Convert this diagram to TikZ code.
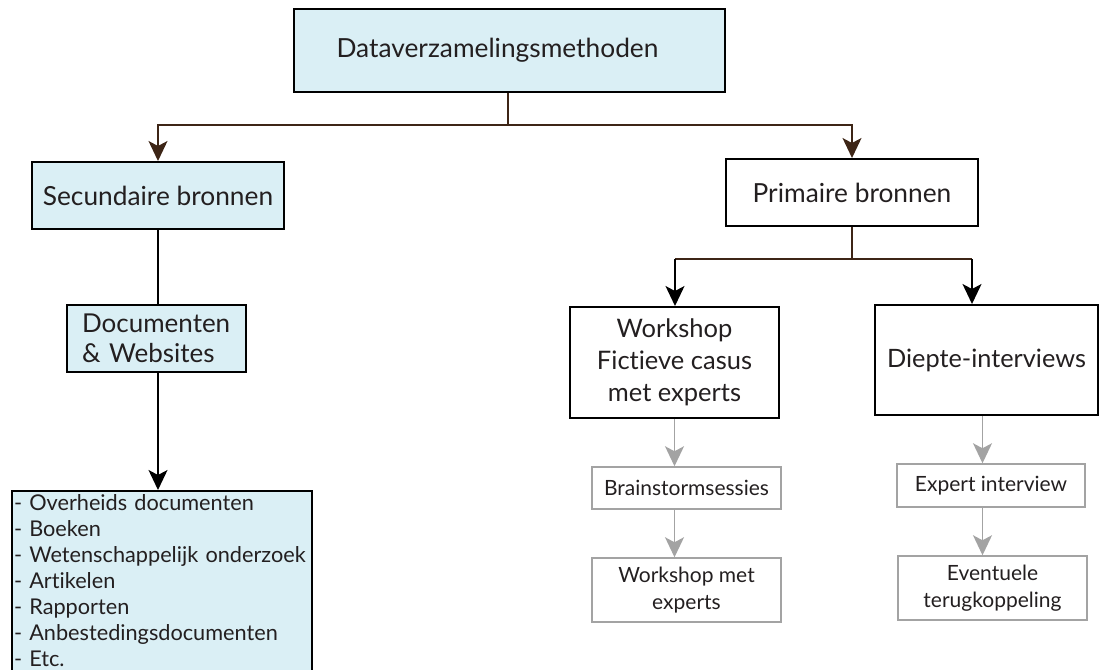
\documentclass[tikz,border=0pt]{standalone}
\usepackage{fontspec}
\setmainfont{Lato}[Ligatures=NoCommon]
\usetikzlibrary{arrows.meta,positioning}

\definecolor{boxblue}{HTML}{DAEFF5}
\definecolor{linebrown}{HTML}{3D2516}
\definecolor{softgray}{HTML}{A3A3A3}
\definecolor{inkgray}{HTML}{231F20}

\tikzset{
  mainbox/.style={draw=black, line width=2pt, text=inkgray, text centered, inner sep=0pt, font=\fontsize{26.3}{32}\selectfont, align=center},
  bluebox/.style={mainbox, fill=boxblue},
  subbox/.style={draw=softgray, line width=1.5pt, text=inkgray, text centered, inner sep=0pt, font=\fontsize{21}{27}\selectfont, align=center},
  brownline/.style={draw=linebrown, line width=1.5pt},
  brownarrow/.style={brownline, -{Stealth[length=20pt,width=19pt,inset=5pt]}},
  blackarrow/.style={draw=black, line width=1.5pt, -{Stealth[length=20pt,width=19pt,inset=5pt]}},
  grayarrow/.style={draw=softgray, line width=1.5pt, -{Stealth[length=20pt,width=19pt,inset=5pt]}}
}

\begin{document}
\begin{tikzpicture}[x=1pt, y=-1pt]
\useasboundingbox (0,0) rectangle (1099,669);

%top
\node [bluebox, minimum width=431pt, minimum height=83pt] (methods) at (509.5,50.5) {Dataverzamelingsmethoden\hspace{24pt}};

%secondary side
\node [bluebox, minimum width=252pt, minimum height=67pt] (secondary) at (158,195.5) {Secundaire bronnen};
\node [bluebox, minimum width=179pt, minimum height=67pt, text width=149pt, align=left, inner xsep=15pt, font=\fontsize{26}{30}\selectfont] (docs) at (156.5,338.5) {Documenten\\\& Websites};
\node [bluebox, anchor=north west, text width=296pt, inner xsep=2pt, inner ysep=4pt, align=left, font=\fontsize{21.7}{26}\selectfont] (sources) at (11,490) {%
- Overheids documenten\\
- Boeken\\
- Wetenschappelijk onderzoek\\
- Artikelen\\
- Rapporten\\
- Anbestedingsdocumenten\\
- Etc.};

%primary side
\node [mainbox, minimum width=252pt, minimum height=67pt] (primary) at (852,192.5) {Primaire bronnen};
\node [mainbox, minimum width=209pt, minimum height=111pt, font=\fontsize{25.5}{32}\selectfont] (workshop) at (674.5,362.5) {Workshop\\Fictieve casus\\met experts};
\node [mainbox, minimum width=223pt, minimum height=110pt, font=\fontsize{25.3}{32}\selectfont] (interviews) at (986.5,360) {Diepte-interviews};

\node [subbox, minimum width=189pt, minimum height=42pt] (brainstorm) at (686.5,488) {Brainstormsessies};
\node [subbox, minimum width=189pt, minimum height=64pt] (expertws) at (686.5,590) {Workshop met\\experts};
\node [subbox, minimum width=188pt, minimum height=43pt] (expertint) at (991,485.5) {Expert interview};
\node [subbox, minimum width=189pt, minimum height=64pt] (feedback) at (992.5,588) {Eventuele\\terugkoppeling};

%connectors
\coordinate (fork1) at (508,125);
\coordinate (fork2) at (852,259);
\coordinate (fork2l) at (675,259);
\coordinate (fork2r) at (972,259);

\draw [brownline] (methods.south -| fork1) -- (fork1);
\draw [brownarrow] (fork1) -| (secondary.north);
\draw [brownarrow] (fork1) -| (primary.north);

\draw [draw=black, line width=1.5pt] (secondary.south) -- (secondary.south |- docs.north);
\draw [blackarrow] (secondary.south |- docs.south) -- (secondary.south |- sources.north);

\draw [brownline] (primary.south) -- (fork2);
\draw [brownline] (fork2l) -- (fork2r);
\draw [blackarrow] (fork2l) -- (fork2l |- workshop.north);
\draw [blackarrow] (fork2r) -- (fork2r |- interviews.north);

\draw [grayarrow] (workshop.south) -- (workshop.south |- brainstorm.north);
\draw [grayarrow] (workshop.south |- brainstorm.south) -- (workshop.south |- expertws.north);
\draw [grayarrow] ([xshift=-4pt]interviews.south) -- ([xshift=-4pt]interviews.south |- expertint.north);
\draw [grayarrow] ([xshift=-4pt]interviews.south |- expertint.south) -- ([xshift=-4pt]interviews.south |- feedback.north);

\end{tikzpicture}
\end{document}
